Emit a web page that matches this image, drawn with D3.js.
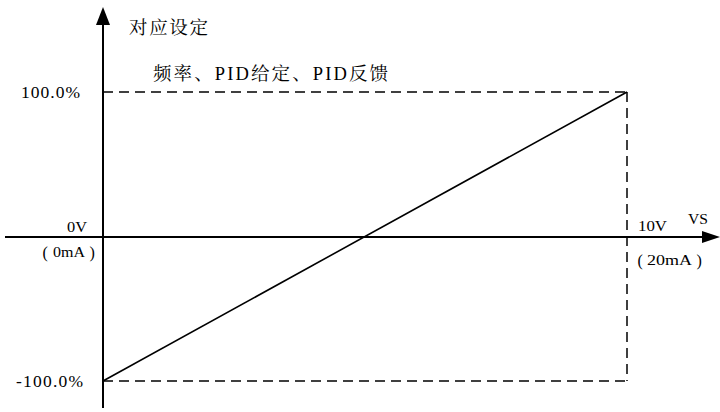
<!DOCTYPE html>
<html>
<head>
<meta charset="utf-8">
<script src="https://cdn.jsdelivr.net/npm/d3@7"></script>
<style>
  body { margin: 0; background: #fff; }
  svg { display: block; }
  text { font-family: "Liberation Serif", "Noto Serif CJK SC", serif; fill: #000; }
</style>
</head>
<body>
<div id="chart"></div>
<script>
// input signal (V) and corresponding setting (%)
const inputVolts = [0, 10]
const settingPct = [-100, 100]
const yTickValues = [100, -100]
const yTickLabels = ['100.0%', '-100.0%']
const xTopLabels = ['0V', '10V']
const xBottomLabels = ['0mA', '20mA']

const width = 720
const height = 412

const svg = d3.select('#chart').append('svg')
  .attr('width', width)
  .attr('height', height)

const x = d3.scaleLinear().domain([0, 10]).range([103, 627])
const y = d3.scaleLinear().domain([-100, 100]).range([381, 92])

// dashed guide lines
const guides = svg.append('g')
  .attr('stroke', '#000')
  .attr('stroke-width', 1.5)
  .attr('stroke-dasharray', '10,6')
  .attr('fill', 'none')

yTickValues.forEach(v => {
  guides.append('line')
    .attr('x1', x(0)).attr('x2', x(10))
    .attr('y1', y(v)).attr('y2', y(v))
})
guides.append('line')
  .attr('x1', x(10)).attr('x2', x(10))
  .attr('y1', y(100)).attr('y2', y(-100))

// axes with arrow heads
svg.append('line')
  .attr('x1', 5).attr('x2', 704)
  .attr('y1', 237).attr('y2', 237)
  .attr('stroke', '#000').attr('stroke-width', 2)
svg.append('path')
  .attr('d', 'M720,237 L702,231 L702,243 Z')
  .attr('fill', '#000')

svg.append('line')
  .attr('x1', x(0)).attr('x2', x(0))
  .attr('y1', 408).attr('y2', 22)
  .attr('stroke', '#000').attr('stroke-width', 2)
svg.append('path')
  .attr('d', 'M103,7 L96,25 L110,25 Z')
  .attr('fill', '#000')

// the characteristic line
const line = d3.line()
  .x(d => x(d[0]))
  .y(d => y(d[1]))

svg.append('path')
  .datum(inputVolts.map((v, i) => [v, settingPct[i]]))
  .attr('d', line)
  .attr('fill', 'none')
  .attr('stroke', '#000')
  .attr('stroke-width', 1.6)

// text helper, width fixed to the reference
function label (str, xs, ys, size, len, anchor, adjust) {
  const t = svg.append('text')
    .attr('x', xs).attr('y', ys)
    .attr('font-size', size)
    .attr('text-anchor', anchor || 'start')
    .text(str)
  if (len) {
    t.attr('textLength', len)
      .attr('lengthAdjust', adjust || 'spacing')
  }
  return t
}

// label in wide brackets: open bracket, text, close bracket
function bracketed (str, xOpen, xs, len, xClose, ys) {
  label('(', xOpen, ys + 1, 16)
  label(str, xs, ys, 15, len, 'start', 'spacingAndGlyphs')
  label(')', xClose, ys + 1, 16)
}

// y labels
label(yTickLabels[0], 80, y(100) + 6, 17.5, 59, 'end')
label(yTickLabels[1], 83, y(-100) + 6, 17.5, 67, 'end')

// x labels
label(xTopLabels[0], 67, 232, 15.5, 20, 'start', 'spacingAndGlyphs')
bracketed(xBottomLabels[0], 42.5, 53, 32, 89.5, 257)
label(xTopLabels[1], 638, 231, 15.5, 29, 'start', 'spacingAndGlyphs')
bracketed(xBottomLabels[1], 637.5, 647, 45, 696.5, 265)
label('VS', 688, 224, 15.5, 20, 'start', 'spacingAndGlyphs')

// titles
label('对应设定', 129, 34, 18.5, 79)
label('频率、PID给定、PID反馈', 153, 80, 18.5, 235)
</script>
</body>
</html>
